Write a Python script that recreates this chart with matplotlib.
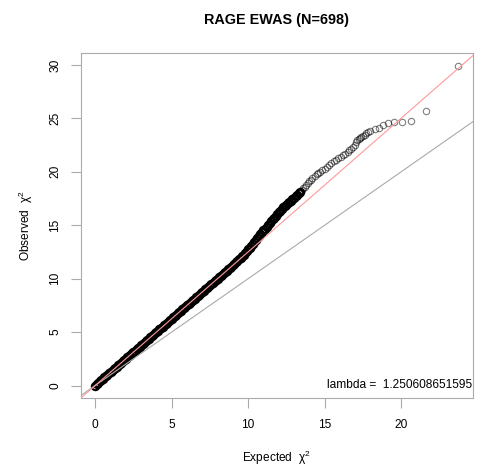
import matplotlib
matplotlib.use("Agg")
import matplotlib.pyplot as plt

plt.rcParams['font.family'] = ['Liberation Sans', 'DejaVu Sans']

# Datos
titulo = "RAGE EWAS (N=698)"
lam = 1.250608651595
xticks = [0, 5, 10, 15, 20]
yticks = [0, 5, 10, 15, 20, 25, 30]

# chi^2 esperado / observado, parte densa (los puntos se enciman)
banda_x = [
    0.0, 0.1, 0.2, 0.3, 0.4, 0.5, 0.6, 0.7, 0.8, 0.9,
    1.0, 1.1, 1.2, 1.3, 1.4, 1.5, 1.6, 1.7, 1.8, 1.9,
    2.0, 2.1, 2.2, 2.3, 2.4, 2.5, 2.6, 2.7, 2.8, 2.9,
    3.0, 3.1, 3.2, 3.3, 3.4, 3.5, 3.6, 3.7, 3.8, 3.9,
    4.0, 4.1, 4.2, 4.3, 4.4, 4.5, 4.6, 4.7, 4.8, 4.9,
    5.0, 5.1, 5.2, 5.3, 5.4, 5.5, 5.6, 5.7, 5.8, 5.9,
    6.0, 6.1, 6.2, 6.3, 6.4, 6.5, 6.6, 6.7, 6.8, 6.9,
    7.0, 7.1, 7.2, 7.3, 7.4, 7.5, 7.6, 7.7, 7.8, 7.9,
    8.0, 8.1, 8.2, 8.3, 8.4, 8.5, 8.6, 8.7, 8.8, 8.9,
    9.0, 9.1, 9.2, 9.3, 9.4, 9.5, 9.6, 9.7, 9.8, 9.9,
    10.0, 10.1, 10.2, 10.3, 10.4, 10.5, 10.6, 10.7, 10.8, 10.9,
    11.0, 11.1, 11.2, 11.3, 11.4, 11.5, 11.6, 11.7, 11.8, 11.9,
    12.0, 12.1, 12.2, 12.3, 12.4, 12.5, 12.6, 12.7, 12.8, 12.9,
    13.0, 13.1, 13.2, 13.3, 13.4,
]
banda_y = [
    0.00, 0.13, 0.25, 0.38, 0.50, 0.63, 0.75, 0.88, 1.00, 1.13,
    1.25, 1.38, 1.50, 1.63, 1.75, 1.88, 2.00, 2.13, 2.25, 2.38,
    2.50, 2.63, 2.75, 2.88, 3.00, 3.13, 3.25, 3.38, 3.50, 3.63,
    3.75, 3.88, 4.00, 4.13, 4.25, 4.38, 4.50, 4.63, 4.75, 4.88,
    5.00, 5.13, 5.25, 5.38, 5.50, 5.63, 5.75, 5.88, 6.00, 6.13,
    6.25, 6.38, 6.50, 6.63, 6.75, 6.88, 7.00, 7.13, 7.25, 7.38,
    7.50, 7.63, 7.75, 7.88, 8.00, 8.13, 8.25, 8.38, 8.50, 8.63,
    8.75, 8.88, 9.00, 9.13, 9.25, 9.38, 9.50, 9.63, 9.75, 9.88,
    10.00, 10.13, 10.25, 10.38, 10.50, 10.63, 10.75, 10.88, 11.00, 11.13,
    11.25, 11.39, 11.53, 11.67, 11.81, 11.96, 12.11, 12.26, 12.42, 12.58,
    12.74, 12.91, 13.08, 13.25, 13.43, 13.61, 13.79, 13.97, 14.15, 14.33,
    14.51, 14.69, 14.86, 15.03, 15.20, 15.37, 15.54, 15.71, 15.88, 16.05,
    16.22, 16.38, 16.53, 16.67, 16.80, 16.93, 17.05, 17.17, 17.30, 17.43,
    17.57, 17.71, 17.85, 17.99, 18.14,
]

# parte superior, puntos ya separados
cola_x = [
    13.5, 13.6, 13.7, 13.8, 13.9,
    14.0, 14.1, 14.2, 14.35, 14.5, 14.6, 14.7, 14.85, 15.0, 15.15,
    15.3, 15.45, 15.6, 15.75, 15.9, 16.05, 16.2, 16.35, 16.5, 16.62,
    16.74, 16.85, 16.96, 17.05, 17.12, 17.22, 17.3, 17.41, 17.51, 17.62,
    17.73, 17.85, 17.99, 18.27, 18.53, 18.81, 19.17, 19.56, 20.03, 20.66,
    21.6, 23.75,
]
cola_y = [
    18.30, 18.46, 18.62, 18.78, 18.94,
    19.10, 19.25, 19.38, 19.60, 19.80, 19.92, 20.03, 20.17, 20.30, 20.45,
    20.60, 20.80, 21.00, 21.15, 21.30, 21.42, 21.55, 21.70, 21.88, 22.02,
    22.15, 22.30, 22.50, 22.80, 23.02, 23.10, 23.18, 23.26, 23.34, 23.48,
    23.60, 23.70, 23.80, 23.99, 24.11, 24.37, 24.55, 24.65, 24.71, 24.74,
    25.68, 29.90,
]

gris = '#aaaaaa'

fig = plt.figure(figsize=(4.84, 4.70), dpi=100)
ax = fig.add_axes([0.1667, 0.1526, 0.8105, 0.734])

# puntos (pch=1 de R)
ax.plot(banda_x, banda_y, linestyle='none', marker='o', markersize=5.3,
        markerfacecolor='none', markeredgecolor='black', markeredgewidth=1.5,
        zorder=2)
ax.plot(cola_x, cola_y, linestyle='none', marker='o', markersize=4.6,
        markerfacecolor='none', markeredgecolor='black', markeredgewidth=0.8,
        alpha=0.5, zorder=2)

# lineas y = x  y  y = lambda*x
ax.axline((0, 0), slope=1, color=gris, lw=0.8, zorder=3)
ax.axline((0, 0), slope=lam, color='#ff9999', lw=0.8, zorder=3)

# limites con 4% de margen como R
todos_x = banda_x + cola_x
todos_y = banda_y + cola_y
x0, x1 = min(todos_x), max(todos_x)
y0, y1 = min(todos_y), max(todos_y)
dx = 0.04 * (x1 - x0)
dy = 0.04 * (y1 - y0)
ax.set_xlim(x0 - dx, x1 + dx)
ax.set_ylim(y0 - dy, y1 + dy)

ax.set_xticks(xticks)
ax.set_yticks(yticks)
for s in ax.spines.values():
    s.set_color(gris)
    s.set_linewidth(0.8)
ax.tick_params(length=7, width=0.8, color=gris, labelsize=8.6)
ax.tick_params(axis='x', pad=8)
ax.tick_params(axis='y', labelrotation=90, pad=7)
for t in ax.get_yticklabels():
    t.set_va('center')

ax.set_title(titulo, fontsize=10.4, fontweight='bold', pad=21)
ax.set_xlabel(r'Expected  $\mathregular{\chi^2}$', fontsize=8.6)
ax.set_ylabel(r'Observed  $\mathregular{\chi^2}$', fontsize=8.6)
ax.xaxis.set_label_coords(0.5, -0.147)
ax.yaxis.set_label_coords(-0.117, 0.5)

ax.text(0.999, 0.0386, "lambda =  " + str(lam), transform=ax.transAxes,
        ha='right', va='center', fontsize=8.6)

fig.savefig("out.png", dpi=100)
